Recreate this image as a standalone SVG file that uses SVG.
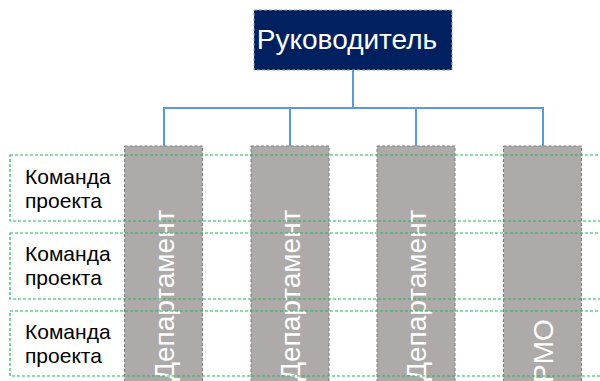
<svg xmlns="http://www.w3.org/2000/svg" width="600" height="381" viewBox="0 0 600 381">
<style>
.dept{fill:#AEAAAA;stroke:#7F7F7F;stroke-width:1;stroke-dasharray:3,2}
.dtext{font-family:"Liberation Sans",Arial,sans-serif;font-size:28px;fill:#FFFFFF}
.row{fill:none;stroke:#1DB954;stroke-width:1.2;stroke-dasharray:3,2}
.ltext{font-family:"Liberation Sans",Arial,sans-serif;font-size:21px;fill:#000000}
.conn{fill:none;stroke:#5B9BD5;stroke-width:2}
</style>
<rect width="600" height="381" fill="#FFFFFF"/>
<g id="connectors">
<path class="conn" d="M353,70 V108 M164,146 V108 H543 V146 M290,108 V146 M416,108 V146"/>
</g>
<g id="head">
<rect x="254" y="10" width="198" height="60" fill="#002060" stroke="#A6A6A6" stroke-width="1" stroke-dasharray="3,2"/>
<text x="347" y="49" text-anchor="middle" font-family="Liberation Sans, Arial, sans-serif" font-size="28" fill="#FFFFFF">Руководитель</text>
</g>
<g id="dept1">
<rect class="dept" x="124.5" y="146" width="78" height="240"/>
<text class="dtext" transform="translate(173.5,381) rotate(-90)">Департамент</text>
</g>
<g id="dept2">
<rect class="dept" x="251" y="146" width="78" height="240"/>
<text class="dtext" transform="translate(300,381) rotate(-90)">Департамент</text>
</g>
<g id="dept3">
<rect class="dept" x="377" y="146" width="78" height="240"/>
<text class="dtext" transform="translate(426,381) rotate(-90)">Департамент</text>
</g>
<g id="pmo">
<rect class="dept" x="503.5" y="146" width="78" height="240"/>
<text class="dtext" transform="translate(552.5,383) rotate(-90)">PMO</text>
</g>
<g id="team1">
<rect class="row" x="10" y="155" width="600" height="66"/>
<text class="ltext" x="25" y="184">Команда</text>
<text class="ltext" x="25" y="208">проекта</text>
</g>
<g id="team2">
<rect class="row" x="10" y="233" width="600" height="66"/>
<text class="ltext" x="25" y="261">Команда</text>
<text class="ltext" x="25" y="285">проекта</text>
</g>
<g id="team3">
<rect class="row" x="10" y="311" width="600" height="65"/>
<text class="ltext" x="25" y="339">Команда</text>
<text class="ltext" x="25" y="363">проекта</text>
</g>
</svg>
